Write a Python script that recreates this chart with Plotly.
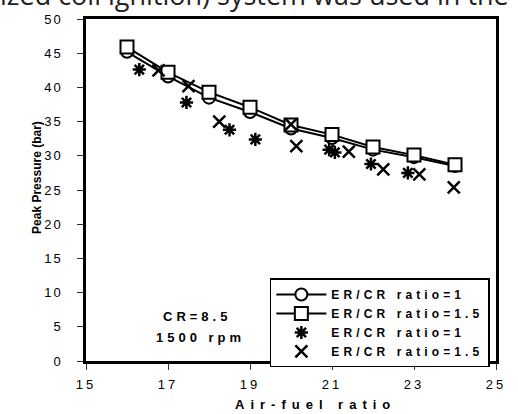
import plotly.graph_objects as go

# Peak pressure against air-fuel ratio, CR = 8.5, 1500 rpm
afr = [16, 17, 18, 19, 20, 21, 22, 23, 24]
peak_er1 = [45.2, 41.6, 38.5, 36.4, 34.0, 32.6, 30.9, 29.8, 28.5]
peak_er15 = [45.9, 42.2, 39.3, 37.1, 34.5, 33.1, 31.3, 30.1, 28.7]

afr_pts_er1 = [16.3, 17.45, 18.5, 19.13, 20.93, 21.07, 21.95, 22.85]
peak_pts_er1 = [42.6, 37.8, 33.8, 32.4, 30.9, 30.5, 28.8, 27.5]

afr_pts_er15 = [16.77, 17.5, 18.25, 20.0, 20.13, 21.41, 22.25, 23.13, 23.97]
peak_pts_er15 = [42.5, 40.2, 35.0, 34.6, 31.4, 30.6, 28.0, 27.3, 25.4]

x_ticks = [15, 17, 19, 21, 23, 25]
y_ticks = [0, 5, 10, 15, 20, 25, 30, 35, 40, 45, 50]

FONT = "Liberation Sans, Arial, sans-serif"


def spaced(text, px=2.5, bold=False):
    s = f'<span style="letter-spacing:{px}px">{text}</span>'
    return f"<b>{s}</b>" if bold else s


LEG_SP = 4.1

fig = go.Figure()

fig.add_trace(go.Scatter(
    x=afr, y=peak_er1, mode="lines+markers",
    name=spaced("ER/CR ratio=1", LEG_SP, True),
    line=dict(color="black", width=2),
    marker=dict(symbol="circle", size=12, color="white",
                line=dict(color="black", width=2)),
))
fig.add_trace(go.Scatter(
    x=afr, y=peak_er15, mode="lines+markers",
    name=spaced("ER/CR ratio=1.5", LEG_SP, True),
    line=dict(color="black", width=2),
    marker=dict(symbol="square", size=13, color="white",
                line=dict(color="black", width=2)),
))
fig.add_trace(go.Scatter(
    x=afr_pts_er1, y=peak_pts_er1, mode="markers",
    name=spaced("ER/CR ratio=1", LEG_SP, True),
    marker=dict(symbol="asterisk-open", size=11, color="black",
                line=dict(color="black", width=2.5)),
))
fig.add_trace(go.Scatter(
    x=afr_pts_er15, y=peak_pts_er15, mode="markers",
    name=spaced("ER/CR ratio=1.5", LEG_SP, True),
    marker=dict(symbol="x-thin-open", size=12, color="black",
                line=dict(color="black", width=2.5)),
))

axis_common = dict(
    showgrid=False, zeroline=False,
    showline=True, linecolor="black", linewidth=2.5, mirror=True,
    ticks="outside", ticklen=6, tickwidth=1, tickcolor="#333",
    tickfont=dict(family=FONT, size=13, color="black"),
)

fig.update_xaxes(
    range=[15, 25], tickvals=x_ticks,
    ticktext=[spaced(str(v), 3) for v in x_ticks],
    ticklabelstandoff=4,
    **axis_common,
)
fig.update_yaxes(
    range=[0, 50], tickvals=y_ticks,
    ticktext=[spaced(str(v), 2) for v in y_ticks],
    ticklabelstandoff=12,
    **axis_common,
)

# pixel placements converted to paper coordinates
L, R, T, B, W, H = 86, 15, 17, 53, 518, 414
pw, ph = W - L - R, H - T - B


def px_x(v):
    return (v - L) / pw


def px_y(v):
    return (H - B - v) / ph


annotations = [
    dict(x=px_x(319), y=px_y(405), xref="paper", yref="paper",
         xanchor="center", yanchor="middle", showarrow=False,
         text=spaced("Air-fuel ratio", 6, True),
         font=dict(family=FONT, size=13, color="black")),
    dict(x=px_x(36), y=px_y(176), xref="paper", yref="paper",
         xanchor="center", yanchor="middle", showarrow=False,
         textangle=-90, text="<b>Peak Pressure (bar)</b>",
         font=dict(family=FONT, size=12, color="black")),
    dict(x=17.70, y=6.45, xref="x", yref="y", showarrow=False,
         xanchor="center", yanchor="middle",
         text=spaced("CR=8.5", 4, True),
         font=dict(family=FONT, size=13, color="black")),
    dict(x=17.80, y=3.5, xref="x", yref="y", showarrow=False,
         xanchor="center", yanchor="middle",
         text=spaced("1500 rpm", 4, True),
         font=dict(family=FONT, size=13, color="black")),
    dict(x=px_x(-4), y=1, xref="paper", yref="paper",
         xanchor="left", yanchor="bottom", yshift=4, showarrow=False,
         text="ized coil ignition) system was used in the",
         font=dict(family="Open Sans, sans-serif", size=27, color="#222")),
]

fig.update_layout(
    width=W, height=H,
    margin=dict(l=L, r=R, t=T, b=B),
    paper_bgcolor="white", plot_bgcolor="white",
    font=dict(family=FONT, color="black"),
    showlegend=True,
    legend=dict(
        x=px_x(273), y=px_y(278),
        xanchor="left", yanchor="top",
        bgcolor="white", bordercolor="black", borderwidth=1.5,
        font=dict(family=FONT, size=12, color="black"),
        itemwidth=50, tracegroupgap=0,
    ),
    annotations=annotations,
)

fig.write_html("out.html")
